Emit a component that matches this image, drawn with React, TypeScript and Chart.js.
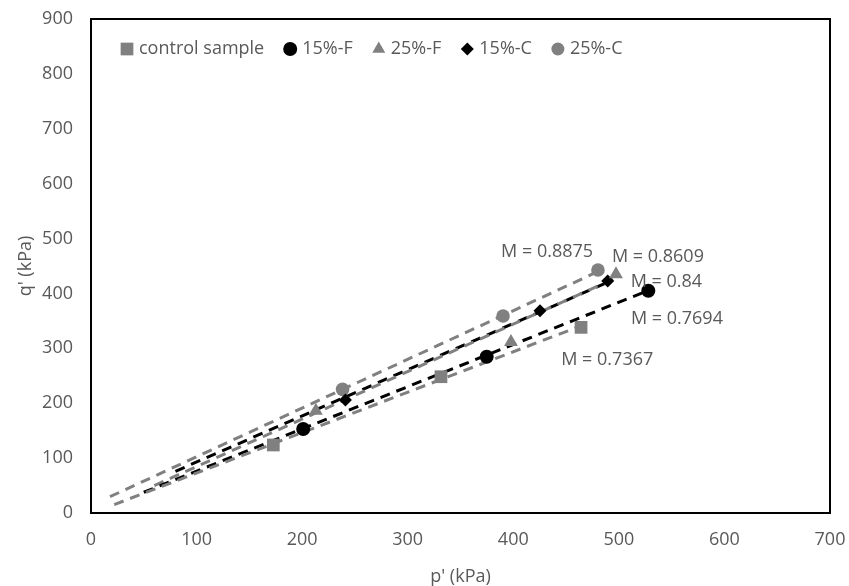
import React, { useEffect, useRef } from "react";
import { Chart, registerables } from "chart.js";
import { drawPoint } from "chart.js/helpers";

Chart.register(...registerables);

// ---- data ----
const seriesNames = ["control sample", "15%-F", "25%-F", "15%-C", "25%-C"];

const controlP = [172.7, 331.5, 464.2];
const controlQ = [123.9, 248.3, 338.2];
const f15P = [201, 374.8, 527.9];
const f15Q = [153, 284.7, 405];
const f25P = [213, 397.8, 497.3];
const f25Q = [186.3, 311.5, 435];
const c15P = [241, 425.3, 489.4];
const c15Q = [206, 368.5, 422.6];
const c25P = [238.3, 390.3, 480.2];
const c25Q = [225.3, 358.8, 442.6];

// trendline end points [start, end]
const controlTrendP = [22, 464];
const controlTrendQ = [15.3, 340.9];
const f15TrendP = [50, 528];
const f15TrendQ = [37.8, 405.5];
const f25TrendP = [60, 497];
const f25TrendQ = [50, 428];
const c15TrendP = [80, 489];
const c15TrendQ = [76, 420];
const c25TrendP = [18, 480];
const c25TrendQ = [29.7, 439.7];

const slopeLabels = ["M = 0.8875", "M = 0.8609", "M = 0.84", "M = 0.7694", "M = 0.7367"];
const slopeLabelP = [432, 537, 545, 555, 489];
const slopeLabelQ = [475, 466, 421, 353, 279];

const xMin = 0;
const xMax = 700;
const xStep = 100;
const yMin = 0;
const yMax = 900;
const yStep = 100;

const xTitle = "p' (kPa)";
const yTitle = "q' (kPa)";

// ---- styles ----
const GRAY = "#808080";
const BLACK = "#000000";
const TEXT = "#595959";
const FONT = '"Open Sans", "DejaVu Sans", sans-serif';
const FS = 18;

const zip = (xs: number[], ys: number[]) => xs.map((x, i) => ({ x, y: ys[i] }));

const markerStyles = ["rect", "circle", "triangle", "rectRot", "circle"];
const markerColors = [GRAY, BLACK, GRAY, BLACK, GRAY];
const markerRadius = [9, 7, 8, 6.5, 6.8];
const legendRadius = [9, 7, 7.5, 6.5, 6.5];

const legendPlugin = {
  id: "insideLegend",
  afterDraw(chart: any) {
    const { ctx, chartArea } = chart;
    ctx.save();
    ctx.font = `${FS}px ${FONT}`;
    ctx.textBaseline = "middle";
    ctx.textAlign = "left";
    const y = chartArea.top + 30;
    let cx = chartArea.left + 36;
    for (let i = 0; i < seriesNames.length; i++) {
      ctx.fillStyle = markerColors[i];
      ctx.strokeStyle = markerColors[i];
      drawPoint(ctx, { pointStyle: markerStyles[i], radius: legendRadius[i], rotation: 0, borderWidth: 0 } as any, cx, y);
      const tx = cx + 12;
      ctx.fillStyle = TEXT;
      ctx.fillText(seriesNames[i], tx, y);
      const w = ctx.measureText(seriesNames[i]).width;
      cx = tx + w + 26;
    }
    ctx.restore();
  },
};

const boxPlugin = {
  id: "plotBox",
  beforeDatasetsDraw(chart: any) {
    const { ctx, chartArea } = chart;
    ctx.save();
    ctx.strokeStyle = BLACK;
    ctx.lineWidth = 2;
    ctx.strokeRect(chartArea.left, chartArea.top, chartArea.right - chartArea.left, chartArea.bottom - chartArea.top);
    ctx.restore();
  },
};

const labelPlugin = {
  id: "slopeLabels",
  afterDatasetsDraw(chart: any) {
    const { ctx, scales } = chart;
    ctx.save();
    ctx.font = `${FS}px ${FONT}`;
    ctx.fillStyle = TEXT;
    ctx.textAlign = "center";
    ctx.textBaseline = "middle";
    slopeLabels.forEach((t, i) => {
      ctx.fillText(t, scales.x.getPixelForValue(slopeLabelP[i]), scales.y.getPixelForValue(slopeLabelQ[i]));
    });
    ctx.restore();
  },
};

export default function App() {
  const ref = useRef<HTMLCanvasElement | null>(null);

  useEffect(() => {
    document.body.style.margin = "0";
    const canvas = ref.current;
    if (!canvas) return;

    const pointSet = (label: string, xs: number[], ys: number[], i: number) => ({
      type: "scatter" as const,
      label,
      data: zip(xs, ys),
      pointStyle: markerStyles[i],
      pointRadius: markerRadius[i],
      pointHoverRadius: markerRadius[i],
      backgroundColor: markerColors[i],
      borderColor: markerColors[i],
      borderWidth: 0,
      showLine: false,
      order: 1,
    });
    const trendSet = (xs: number[], ys: number[], color: string) => ({
      type: "line" as const,
      label: "trend",
      data: zip(xs, ys),
      borderColor: color,
      backgroundColor: color,
      borderWidth: 3,
      borderDash: [10, 7],
      pointRadius: 0,
      fill: false,
      tension: 0,
      order: 2,
    });

    const chart = new Chart(canvas, {
      type: "scatter",
      data: {
        datasets: [
          pointSet(seriesNames[0], controlP, controlQ, 0),
          pointSet(seriesNames[1], f15P, f15Q, 1),
          pointSet(seriesNames[2], f25P, f25Q, 2),
          pointSet(seriesNames[3], c15P, c15Q, 3),
          pointSet(seriesNames[4], c25P, c25Q, 4),
          trendSet(controlTrendP, controlTrendQ, GRAY),
          trendSet(f15TrendP, f15TrendQ, BLACK),
          trendSet(f25TrendP, f25TrendQ, GRAY),
          trendSet(c15TrendP, c15TrendQ, BLACK),
          trendSet(c25TrendP, c25TrendQ, GRAY),
        ] as any,
      },
      options: {
        responsive: false,
        animation: false,
        devicePixelRatio: 1,
        layout: { padding: { top: 19, right: 19, left: 0, bottom: 0 } },
        plugins: {
          legend: { display: false },
          tooltip: { enabled: false },
        },
        scales: {
          x: {
            type: "linear",
            min: xMin,
            max: xMax,
            ticks: { stepSize: xStep, color: TEXT, font: { family: FONT, size: FS }, padding: 16, maxRotation: 0 },
            grid: { display: false, drawTicks: false },
            border: { display: false },
            title: { display: true, text: xTitle, color: TEXT, font: { family: FONT, size: FS }, padding: { top: 0, bottom: -2 } },
            afterFit: (s: any) => {
              s.height = 73;
              s.paddingLeft = 0;
              s.paddingRight = 0;
            },
          },
          y: {
            type: "linear",
            min: yMin,
            max: yMax,
            ticks: { stepSize: yStep, color: TEXT, font: { family: FONT, size: FS }, padding: 18 },
            grid: { display: false, drawTicks: false },
            border: { display: false },
            title: { display: true, text: yTitle, color: TEXT, font: { family: FONT, size: FS }, padding: { top: 15, bottom: 0 } },
            afterFit: (s: any) => {
              s.width = 91;
              s.paddingTop = 0;
              s.paddingBottom = 0;
            },
          },
        },
      } as any,
      plugins: [boxPlugin, labelPlugin, legendPlugin],
    });

    return () => chart.destroy();
  }, []);

  return (
    <div style={{ width: 849, height: 586 }}>
      <canvas ref={ref} width={849} height={586} style={{ width: 849, height: 586, display: "block" }} />
    </div>
  );
}
